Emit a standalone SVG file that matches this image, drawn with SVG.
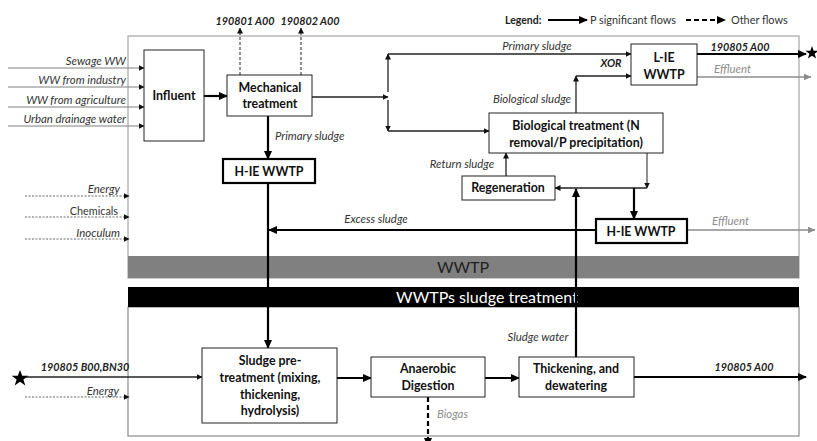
<svg xmlns="http://www.w3.org/2000/svg" width="817" height="441" viewBox="0 0 817 441">
<defs>
<style>
text{font-family:Lato,"Liberation Sans",sans-serif;}
.nb{fill:#fff;stroke:#222;stroke-width:1;}
.nbt{fill:#fff;stroke:#000;stroke-width:2.2;}
.nl{font-size:12.4px;font-weight:bold;fill:#111;text-anchor:middle;}
.lb{font-size:11.4px;font-style:italic;fill:#333;}
.lbb{font-size:10.8px;font-style:italic;font-weight:bold;fill:#222;}
.gr{font-size:11.4px;font-style:italic;fill:#8c8c8c;}
.th{stroke:#000;stroke-width:2.2;fill:none;}
.md{stroke:#222;stroke-width:1.3;fill:none;}
.tn{stroke:#222;stroke-width:1;fill:none;}
.in{stroke:#808080;stroke-width:1;fill:none;}
.dt{stroke:#666;stroke-width:1;stroke-dasharray:2,1.5;fill:none;}
.gl{stroke:#8c8c8c;stroke-width:1.5;fill:none;}
</style>
<marker id="ah" markerWidth="9" markerHeight="8" refX="8" refY="4" orient="auto" markerUnits="userSpaceOnUse"><path d="M0,0 L9,4 L0,8 z" fill="#000"/></marker>
<marker id="as" markerWidth="6" markerHeight="6" refX="5.5" refY="3" orient="auto" markerUnits="userSpaceOnUse"><path d="M0,0 L6,3 L0,6 z" fill="#111"/></marker>
<marker id="ag" markerWidth="8" markerHeight="7" refX="7.5" refY="3.5" orient="auto" markerUnits="userSpaceOnUse"><path d="M0,0 L8,3.5 L0,7 z" fill="#8c8c8c"/></marker>
</defs>
<rect width="817" height="441" fill="#fff"/>

<!-- frames -->
<g id="frames">
<rect x="128" y="36" width="671" height="242" fill="none" stroke="#a6a6a6" stroke-width="1.2"/>
<rect x="128" y="256" width="671" height="22" fill="#808080"/>
<text x="463" y="273" font-size="16" fill="#222" text-anchor="middle">WWTP</text>
<rect x="128" y="307" width="671" height="129" fill="none" stroke="#8a8a8a" stroke-width="1.2"/>
<rect x="128" y="287" width="671" height="20" fill="#000"/>
<text x="487" y="302.5" font-size="16" fill="#fff" text-anchor="middle">WWTPs sludge treatment</text>
</g>

<!-- legend -->
<g id="legend">
<text x="505" y="24" font-size="10.5" font-weight="bold" fill="#222">Legend:</text>
<line x1="548" y1="20" x2="587" y2="20" class="th" marker-end="url(#ah)"/>
<text x="590" y="24" font-size="10.9" fill="#333">P significant flows</text>
<line x1="686" y1="20" x2="725" y2="20" class="th" stroke-dasharray="5,3" marker-end="url(#ah)"/>
<text x="731" y="24" font-size="10.9" fill="#333">Other flows</text>
</g>

<!-- connectors -->
<g id="connectors">
<path d="M8,68 H144" class="in" marker-end="url(#as)"/>
<path d="M8,87 H144" class="in" marker-end="url(#as)"/>
<path d="M8,107 H144" class="in" marker-end="url(#as)"/>
<path d="M8,126 H144" class="in" marker-end="url(#as)"/>
<path d="M25,196 H129" class="dt" marker-end="url(#as)"/>
<path d="M25,217 H129" class="dt" marker-end="url(#as)"/>
<path d="M25,239 H129" class="dt" marker-end="url(#as)"/>
<path d="M25,397 H129" class="dt" marker-end="url(#as)"/>
<path d="M204,96 H227" class="th" marker-end="url(#ah)"/>
<path d="M240,75 V28" class="tn" stroke-dasharray="3,2" marker-end="url(#as)"/>
<path d="M301,75 V28" class="tn" stroke-dasharray="3,2" marker-end="url(#as)"/>
<path d="M312,97 H388" class="md" marker-end="url(#as)"/>
<path d="M388,92 V54" class="md" marker-end="url(#as)"/>
<path d="M388,100 V131" class="md" marker-end="url(#as)"/>
<path d="M388,54 H631" class="md" marker-end="url(#as)"/>
<path d="M388,131 H489" class="md" marker-end="url(#as)"/>
<path d="M576,113 V76" class="md" marker-end="url(#as)"/>
<path d="M576,76 H631" class="md" marker-end="url(#as)"/>
<path d="M697,54 H806" class="th" marker-end="url(#ah)"/>
<path d="M697,77 H811" class="gl" marker-end="url(#ag)"/>
<path d="M268,116 V159" class="th" marker-end="url(#ah)"/>
<path d="M268,183 V348" class="th" marker-end="url(#ah)"/>
<path d="M596,230 H269" class="th" marker-end="url(#ah)"/>
<path d="M647,153 V188" class="tn" marker-end="url(#as)"/>
<path d="M647,188 H555" class="md" marker-end="url(#as)"/>
<path d="M634,188 V219" class="th" marker-end="url(#ah)"/>
<path d="M506,176 V153" class="md" marker-end="url(#as)"/>
<path d="M576,357 V189" class="th" marker-end="url(#ah)"/>
<path d="M687,230 H815" class="gl" marker-end="url(#ag)"/>
<path d="M25,377 H202" class="md" marker-end="url(#as)"/>
<path d="M337,378 H371" class="th" marker-end="url(#ah)"/>
<path d="M485,378 H519" class="th" marker-end="url(#ah)"/>
<path d="M634,377 H806" class="th" marker-end="url(#ah)"/>
<path d="M428,397 V446" class="th" stroke-width="2.5" stroke-dasharray="5,3" marker-end="url(#ah)"/>
<polygon points="812,46 813.6,50.8 818.6,50.8 814.6,53.8 816.1,58.6 812,55.7 807.9,58.6 809.4,53.8 805.4,50.8 810.4,50.8" fill="#000"/>
<polygon points="20,370 22.2,375.8 28.4,375.8 23.4,379.5 25.3,385.5 20,381.8 14.7,385.5 16.6,379.5 11.6,375.8 17.8,375.8" fill="#000"/>
</g>

<!-- connector labels -->
<g id="labels">
<text class="lb" x="126" y="65" text-anchor="end">Sewage WW</text>
<text class="lb" x="126" y="84" text-anchor="end">WW from industry</text>
<text class="lb" x="126" y="104" text-anchor="end">WW from agriculture</text>
<text class="lb" x="126" y="123" text-anchor="end">Urban drainage water</text>
<text class="lb" x="120" y="193" text-anchor="end">Energy</text>
<text x="118" y="215" text-anchor="end" font-size="10.8" fill="#333">Chemicals</text>
<text class="lb" x="120" y="237" text-anchor="end">Inoculum</text>
<text class="lb" x="119" y="395" text-anchor="end">Energy</text>
<text class="lbb" x="245" y="25" text-anchor="middle">190801 A00</text>
<text class="lbb" x="310" y="25" text-anchor="middle">190802 A00</text>
<text class="lb" x="537" y="50" text-anchor="middle">Primary sludge</text>
<text class="lb" x="532" y="103" text-anchor="middle">Biological sludge</text>
<text class="lbb" x="611" y="67" text-anchor="middle">XOR</text>
<text class="lbb" x="740" y="51" text-anchor="middle">190805 A00</text>
<text class="gr" x="714" y="73">Effluent</text>
<text class="lb" x="275" y="140">Primary sludge</text>
<text class="lb" x="462" y="168" text-anchor="middle">Return sludge</text>
<text class="lb" x="376" y="223" text-anchor="middle">Excess sludge</text>
<text class="gr" x="712" y="225">Effluent</text>
<text class="lbb" x="85" y="371" text-anchor="middle">190805 B00,BN30</text>
<text class="lb" x="538" y="341" text-anchor="middle">Sludge water</text>
<text class="gr" x="437" y="418">Biogas</text>
<text class="lbb" x="744" y="371" text-anchor="middle">190805 A00</text>
</g>

<!-- nodes -->
<g id="influent"><rect class="nb" x="144" y="50" width="60" height="91"/><text class="nl" x="174" y="100">Influent</text></g>
<g id="mechanical"><rect class="nb" x="227" y="75" width="85" height="41"/><text class="nl" x="270" y="92">Mechanical</text><text class="nl" x="270" y="108">treatment</text></g>
<g id="hie-left"><rect class="nbt" x="223" y="159" width="92" height="24"/><text class="nl" x="269" y="175.5">H-IE WWTP</text></g>
<g id="lie"><rect class="nb" x="631" y="44" width="66" height="41"/><text class="nl" x="664" y="62">L-IE</text><text class="nl" x="664" y="79">WWTP</text></g>
<g id="biological"><rect class="nb" x="489" y="113" width="174" height="40"/><text class="nl" x="576" y="130">Biological treatment (N</text><text class="nl" x="576" y="147">removal/P precipitation)</text></g>
<g id="regeneration"><rect class="nb" x="462" y="176" width="93" height="24"/><text class="nl" x="508" y="192">Regeneration</text></g>
<g id="hie-right"><rect class="nbt" x="596" y="219" width="91" height="24"/><text class="nl" x="641" y="235.5">H-IE WWTP</text></g>
<g id="pretreatment"><rect class="nb" x="202" y="348" width="135" height="75"/><text class="nl" x="270" y="365">Sludge pre-</text><text class="nl" x="270" y="382">treatment (mixing,</text><text class="nl" x="270" y="399">thickening,</text><text class="nl" x="270" y="415">hydrolysis)</text></g>
<g id="anaerobic"><rect class="nb" x="371" y="357" width="114" height="40"/><text class="nl" x="428" y="373">Anaerobic</text><text class="nl" x="428" y="390">Digestion</text></g>
<g id="thickening"><rect class="nb" x="519" y="357" width="115" height="40"/><text class="nl" x="576" y="373">Thickening, and</text><text class="nl" x="576" y="390">dewatering</text></g>
</svg>
